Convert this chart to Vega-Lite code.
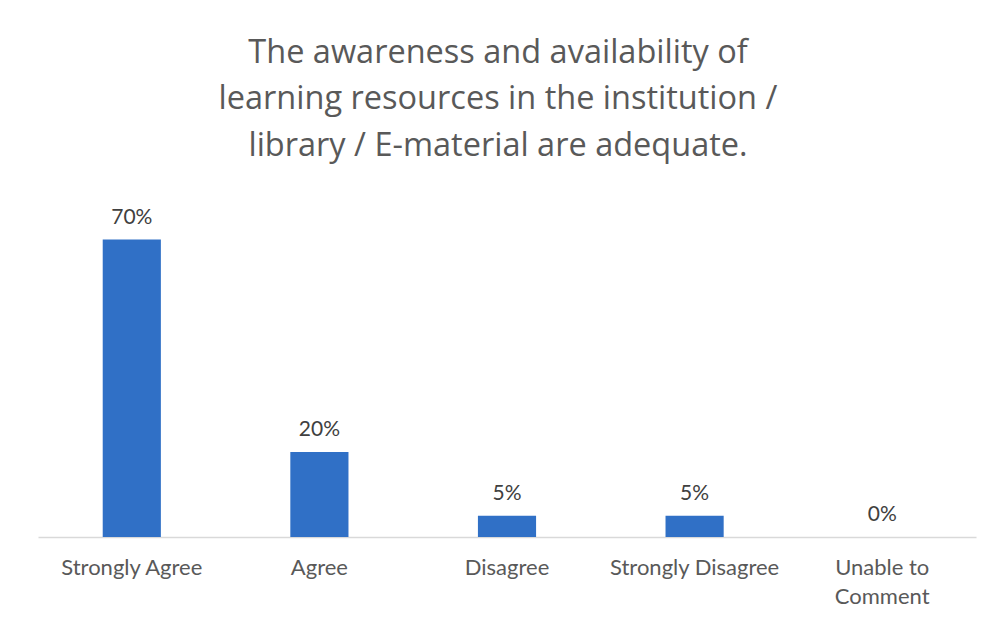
{
  "$schema": "https://vega.github.io/schema/vega-lite/v6.json",
  "width": 938,
  "height": 340,
  "autosize": "none",
  "padding": {"left": 38, "top": 197, "right": 18, "bottom": 86},
  "background": "white",
  "title": {
    "text": ["The awareness and availability of", "learning resources in the institution /", "library / E-material are adequate."],
    "font": "Open Sans",
    "fontSize": 32.5,
    "fontWeight": "normal",
    "color": "#595959",
    "lineHeight": 46.5,
    "anchor": "middle",
    "dx": -9,
    "offset": 35
  },
  "data": {
    "values": [
      {"response": "Strongly Agree", "pct": 0.70},
      {"response": "Agree", "pct": 0.20},
      {"response": "Disagree", "pct": 0.05},
      {"response": "Strongly Disagree", "pct": 0.05},
      {"response": "Unable to Comment", "pct": 0.0}
    ]
  },
  "encoding": {
    "x": {
      "field": "response",
      "type": "nominal",
      "sort": null,
      "scale": {"paddingInner": 0.69, "paddingOuter": 0.345},
      "axis": {
        "title": null,
        "labelAngle": 0,
        "ticks": false,
        "domainColor": "#D9D9D9",
        "domainWidth": 1.5,
        "labelFont": "Lato",
        "labelFontSize": 22,
        "labelColor": "#595959",
        "labelPadding": 20,
        "labelLineHeight": 29,
        "labelBaseline": "top",
        "labelExpr": "datum.value == 'Unable to Comment' ? ['Unable to', 'Comment'] : datum.value"
      }
    },
    "y": {
      "field": "pct",
      "type": "quantitative",
      "scale": {"domain": [0, 0.8], "nice": false, "zero": true},
      "axis": null
    }
  },
  "layer": [
    {"mark": {"type": "bar", "color": "#3070C6"}},
    {
      "mark": {"type": "text", "baseline": "alphabetic", "dy": -16, "font": "Lato", "fontSize": 21, "color": "#404040"},
      "encoding": {"text": {"field": "pct", "type": "quantitative", "format": ".0%"}}
    }
  ],
  "config": {"view": {"stroke": null}}
}
